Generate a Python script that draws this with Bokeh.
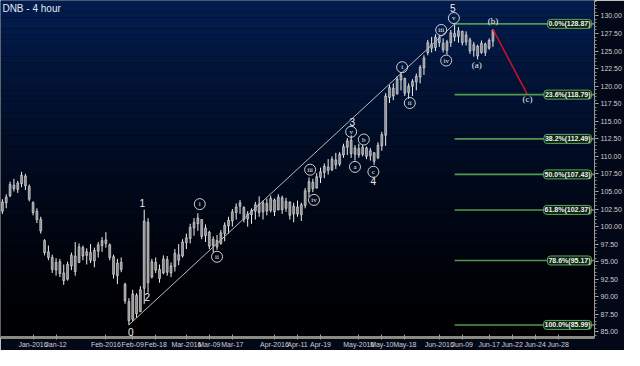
import numpy as np
from bokeh.plotting import figure
from bokeh.models import Range1d, FixedTicker, Label, ColumnDataSource, NumeralTickFormatter
from bokeh.embed import file_html
from bokeh.resources import INLINE
from bokeh.core.properties import value

# ---------------- data ----------------
bar_low = [101.8, 102.6, 104.2, 105.0, 104.8, 105.6, 105.2, 103.6, 101.6, 100.5,
           99.0, 95.9, 95.2, 93.4, 93.0, 92.8, 91.7, 92.3, 93.8, 93.0,
           94.8, 95.2, 94.6, 94.8, 94.2, 95.6, 96.4, 97.0, 95.2, 92.6,
           91.8, 93.5, 89.0, 85.99, 86.5, 87.0, 87.8, 89.0, 90.6, 92.6,
           93.4, 92.0, 93.2, 93.0, 92.8, 93.6, 94.5, 95.6, 96.8, 97.6,
           98.7, 99.4, 98.2, 97.8, 96.8, 96.3, 96.7, 97.4, 97.9, 99.0,
           100.0, 101.0, 101.8, 100.6, 100.0, 100.4, 101.0, 101.4, 101.0, 101.6,
           102.0, 101.5, 102.3, 101.8, 102.1, 101.0, 100.6, 101.4, 100.8, 102.6,
           104.2, 104.9, 105.4, 106.2, 106.9, 107.4, 107.9, 108.2, 108.6, 109.8,
           110.2, 109.8, 109.4, 109.8, 110.0, 109.6, 109.4, 108.8, 109.6, 110.8,
           111.5, 117.6, 118.0, 118.8, 119.4, 118.6, 118.2, 118.6, 119.4, 120.4,
           121.6, 124.4, 124.8, 125.0, 125.6, 124.8, 124.5, 125.6, 126.4, 126.2,
           125.8, 125.8, 124.6, 124.2, 123.8, 124.6, 124.3, 125.2, 125.6]
bar_high = [103.9, 104.6, 106.4, 106.8, 106.5, 107.8, 107.5, 106.0, 103.6, 102.6,
            101.4, 98.2, 97.3, 96.0, 95.5, 95.4, 94.6, 95.0, 96.3, 97.8,
            97.6, 97.3, 96.9, 97.5, 97.0, 97.8, 98.5, 99.2, 97.6, 96.0,
            95.4, 95.6, 92.0, 89.8, 91.0, 90.5, 91.5, 102.4, 101.2, 95.4,
            95.6, 94.6, 95.9, 95.8, 94.9, 96.8, 97.5, 98.2, 99.0, 100.4,
            101.2, 101.9, 101.0, 100.3, 99.4, 98.6, 98.8, 99.5, 100.6, 101.4,
            102.5, 103.3, 103.8, 102.9, 102.2, 102.6, 103.5, 104.3, 103.7, 104.0,
            104.4, 104.0, 104.6, 104.4, 104.1, 103.6, 103.4, 103.7, 103.4, 105.5,
            107.0, 106.8, 107.6, 108.4, 109.0, 109.6, 110.0, 110.5, 110.6, 111.8,
            112.6, 113.0, 111.6, 111.8, 111.6, 111.4, 111.2, 110.6, 112.0, 113.5,
            119.0, 120.2, 120.4, 121.4, 122.0, 121.2, 120.4, 121.0, 121.8, 123.0,
            124.4, 126.6, 127.0, 127.4, 127.3, 126.8, 126.6, 128.0, 128.87, 128.4,
            127.9, 127.8, 126.9, 126.3, 125.9, 126.5, 126.2, 126.8, 128.1]
bar_open = [102.2, 103.4, 104.4, 105.9, 105.3, 106.1, 107.2, 105.7, 103.4, 102.2,
            101.0, 98.0, 96.4, 95.6, 93.8, 95.0, 93.4, 92.5, 94.4, 95.8,
            94.9, 97.0, 95.9, 96.3, 95.1, 96.5, 97.3, 98.1, 97.4, 95.7,
            93.0, 94.9, 91.8, 89.3, 86.8, 90.2, 87.9, 91.2, 100.6, 92.8,
            94.9, 93.9, 93.4, 95.3, 93.4, 94.3, 96.0, 95.8, 97.7, 98.3,
            99.8, 100.4, 101.0, 98.7, 99.2, 97.3, 98.0, 97.6, 99.0, 100.1,
            100.8, 102.0, 102.9, 102.7, 101.1, 101.7, 102.2, 103.2, 102.1, 103.3,
            102.3, 103.8, 102.4, 104.1, 102.6, 103.5, 101.8, 102.8, 101.7, 103.0,
            105.0, 106.3, 105.5, 107.0, 107.7, 108.5, 108.1, 109.5, 108.9, 110.2,
            111.3, 112.3, 110.3, 111.1, 110.3, 111.2, 110.1, 110.5, 109.8, 111.5,
            113.0, 118.4, 119.7, 118.9, 120.9, 121.1, 119.1, 120.0, 120.6, 121.3,
            122.6, 124.8, 126.0, 125.5, 126.9, 126.1, 125.1, 126.2, 127.5, 127.1,
            127.8, 126.3, 126.6, 125.1, 125.7, 124.8, 126.0, 125.4, 126.4]
bar_close = [103.5, 104.2, 106.0, 105.4, 106.2, 107.3, 105.8, 103.9, 102.0, 101.0,
             99.4, 96.3, 95.6, 93.9, 94.9, 93.3, 92.3, 94.6, 95.9, 93.6,
             97.1, 95.8, 96.4, 95.2, 96.6, 97.4, 98.0, 97.6, 95.6, 93.2,
             94.8, 93.9, 89.4, 86.6, 90.4, 87.6, 91.0, 100.8, 92.0, 95.0,
             93.8, 92.6, 95.4, 93.5, 94.4, 96.2, 95.2, 97.8, 98.4, 99.9,
             100.6, 101.2, 98.6, 99.8, 97.2, 98.2, 97.1, 99.1, 100.2, 100.9,
             102.1, 102.8, 103.4, 101.0, 101.8, 102.3, 103.1, 102.0, 103.4, 102.2,
             104.0, 102.1, 104.2, 102.4, 103.6, 101.6, 102.9, 101.8, 103.1, 105.1,
             106.4, 105.4, 107.1, 107.8, 108.6, 108.0, 109.6, 108.8, 110.3, 111.4,
             112.2, 110.4, 111.2, 110.2, 111.3, 110.0, 110.8, 109.3, 111.6, 113.1,
             118.6, 119.8, 118.6, 121.0, 121.6, 119.0, 120.0, 120.7, 121.4, 122.7,
             124.0, 126.2, 125.4, 127.0, 126.2, 125.2, 126.3, 127.6, 127.0, 127.9,
             126.2, 127.3, 125.0, 125.9, 124.3, 126.1, 124.8, 126.5, 128.0]
bar_index = list(range(len(bar_low)))

x_tick_index = [8, 14, 27, 34, 40, 48, 54, 60, 71, 77, 83, 93, 99, 105, 114, 120, 127, 133, 139, 145]
x_tick_labels = ["Jan-2016", "Jan-12", "Feb-2016", "Feb-09", "Feb-18", "Mar-2016", "Mar-09",
                 "Mar-17", "Apr-2016", "Apr-11", "Apr-19", "May-2016", "May-10", "May-18",
                 "Jun-2016", "Jun-09", "Jun-17", "Jun-22", "Jun-24", "Jun-28"]
y_tick_values = [85.0, 87.5, 90.0, 92.5, 95.0, 97.5, 100.0, 102.5, 105.0, 107.5, 110.0,
                 112.5, 115.0, 117.5, 120.0, 122.5, 125.0, 127.5, 130.0]

fib_names = ["0.0%", "23.6%", "38.2%", "50.0%", "61.8%", "78.6%", "100.0%"]
fib_values = [128.87, 118.79, 112.49, 107.43, 102.37, 95.17, 85.99]
fib_start = 118
fib_end = 154.5

trend_x = [33, 118]
trend_y = [85.99, 128.87]
proj_x = [128, 137]
proj_y = [128.1, 118.79]

wave_num_text = ["0", "1", "2", "3", "4", "5"]
wave_num_x = [33.5, 36.5, 37.8, 91.3, 96.8, 117.5]
wave_num_y = [85.0, 103.4, 89.9, 114.9, 106.5, 131.2]

circ_text = ["i", "ii", "iii", "iv", "v", "a", "b", "c", "i", "ii", "iii", "iv", "v"]
circ_x = [51.5, 56.0, 80.3, 81.3, 91.0, 92.0, 94.3, 96.8, 104.3, 106.3, 114.5, 115.8, 117.8]
circ_y = [103.2, 95.7, 108.1, 103.8, 113.5, 108.5, 112.4, 107.8, 122.7, 117.6, 128.0, 123.65, 129.7]

paren_text = ["(a)", "(b)", "(c)"]
paren_x = [123.8, 128.0, 137.0]
paren_y = [123.0, 129.3, 118.1]

price_tags = [128.00, 126.35]

# ---------------- figure ----------------
Y0, Y1 = 84.2, 132.2
X0, X1 = -0.5, 154.5
p = figure(width=624, height=350, output_backend="svg", toolbar_location=None,
           x_range=Range1d(X0, X1), y_range=Range1d(Y0, Y1), y_axis_location="right",
           background_fill_color="#000000", border_fill_color="#020818",
           min_border_left=0, min_border_top=0, min_border_bottom=0, min_border_right=0)
p.outline_line_color = None
p.grid.visible = False

# vertical background gradient (navy to black)
n_bands = 60
edges = np.linspace(Y0, Y1, n_bands + 1)
cols = []
for k in range(n_bands):
    t = (k + 0.5) / n_bands
    f = t ** 1.4
    cols.append("#%02x%02x%02x" % (int(3 * f), int(29 * f), int(2 + 78 * f)))
p.quad(left=[X0] * n_bands, right=[X1] * n_bands, bottom=edges[:-1], top=edges[1:] + 0.02,
       fill_color=cols, line_color=None)

# candles
src = ColumnDataSource(dict(x=bar_index, lo=bar_low, hi=bar_high,
                            top=[max(o, c) for o, c in zip(bar_open, bar_close)],
                            bot=[min(o, c) for o, c in zip(bar_open, bar_close)]))
p.segment(x0="x", y0="lo", x1="x", y1="hi", source=src, line_color="#f0f0f0", line_width=1)
p.vbar(x="x", width=0.5, top="top", bottom="bot", source=src,
       fill_color="#8d8d8d", line_color="#e6e6e6", line_width=0.6)

# trend line and projection
p.line(trend_x, trend_y, line_color="#b9b9b9", line_width=1)
p.line(proj_x, proj_y, line_color="#d0102c", line_width=1.5)

# fibonacci levels
for name, v in zip(fib_names, fib_values):
    p.line([fib_start, fib_end], [v, v], line_color="#4f9a4f", line_width=1.6)
    p.add_layout(Label(x=X1, y=v, text="%s(%.2f)" % (name, v), text_align="right",
                       text_baseline="middle", x_offset=-3, text_font_size="7px",
                       text_font="Liberation Sans", text_font_style="bold", text_color="#f2f2f2",
                       background_fill_color="#0e2412", border_line_color="#5aa65a",
                       border_line_width=1, padding=1, border_radius=3))

# wave labels
p.text(x=wave_num_x, y=wave_num_y, text=wave_num_text, text_align="center",
       text_baseline="middle", text_font=value("Liberation Sans"), text_font_size="10px",
       text_color="#eeeeee")
p.scatter(x=circ_x, y=circ_y, marker="circle", size=11, fill_color=None,
          line_color="#cfcfcf", line_width=1)
p.text(x=circ_x, y=circ_y, text=circ_text, text_align="center", text_baseline="middle",
       text_font=value("Liberation Serif"), text_font_size="7px", text_color="#eeeeee")
p.text(x=paren_x, y=paren_y, text=paren_text, text_align="center", text_baseline="middle",
       text_font=value("Liberation Serif"), text_font_size="9px", text_color="#eeeeee")

# title
p.add_layout(Label(x=0, y=131.9, text="DNB - 4 hour", text_align="left", text_baseline="top",
                   text_font="Liberation Sans", text_font_size="10px", text_color="#e3e7ef"))

# price tags on the price axis
tag_style = [("#dfe7ef", "#1c2a48"), ("#f0c9c9", "#7a1a1a")]
for v, (bg, fg) in zip(price_tags, tag_style):
    p.add_layout(Label(x=X1, y=v, text="%.2f" % v, text_align="left", text_baseline="middle",
                       x_offset=4, text_font_size="7px", text_font="Liberation Sans",
                       text_font_style="bold", text_color=fg, background_fill_color=bg,
                       padding=1, level="overlay"))

# axes
xa = p.xaxis[0]
xa.ticker = FixedTicker(ticks=x_tick_index)
xa.major_label_overrides = {k: lab for k, lab in zip(x_tick_index, x_tick_labels)}
xa.axis_line_color = "#8a8a7e"
xa.axis_line_width = 3
xa.major_tick_line_color = "#a0a094"
xa.major_tick_in = 3
xa.major_tick_out = 2
xa.minor_tick_line_color = None
xa.major_label_text_font_size = "7px"
xa.major_label_text_font = "Liberation Sans"
xa.major_label_text_color = "#cfcfcf"
xa.major_label_standoff = 1

ya = p.yaxis[0]
ya.ticker = FixedTicker(ticks=y_tick_values, minor_ticks=list(np.arange(84.5, 132.1, 0.5)))
ya.formatter = NumeralTickFormatter(format="0.00")
ya.axis_line_color = "#9a9a8e"
ya.major_tick_line_color = "#b0b0a4"
ya.major_tick_out = 4
ya.major_tick_in = 0
ya.minor_tick_line_color = "#8a8a7e"
ya.minor_tick_out = 2
ya.minor_tick_in = 0
ya.major_label_text_font_size = "7px"
ya.major_label_text_font = "Liberation Sans"
ya.major_label_text_color = "#cfcfcf"
ya.major_label_standoff = 2

open("out.html", "w").write(file_html(p, INLINE))
